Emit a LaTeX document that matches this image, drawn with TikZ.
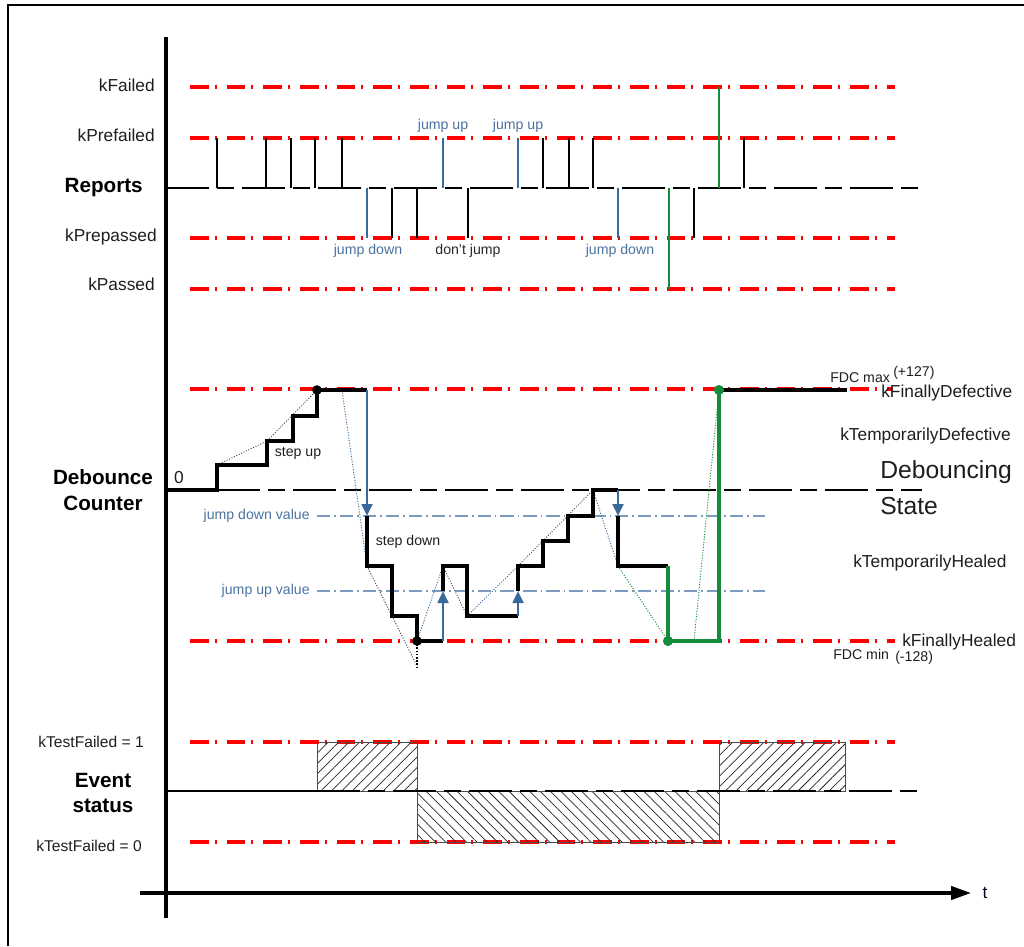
\documentclass[tikz,border=0pt]{standalone}
\usepackage{fontspec}
\setmainfont{Liberation Sans}
\usetikzlibrary{patterns.meta,arrows.meta}
\definecolor{redl}{RGB}{255,0,0}
\definecolor{bluel}{RGB}{58,106,154}
\definecolor{bluet}{RGB}{74,114,160}
\definecolor{bluedd}{RGB}{125,155,192}
\definecolor{greenl}{RGB}{20,140,60}
\definecolor{txt}{RGB}{30,30,30}
\definecolor{dotgray}{RGB}{80,80,80}
\begin{document}
\begin{tikzpicture}[x=0.75pt,y=-0.75pt,
  lbl/.style={font=\fontsize{13}{15}\selectfont, text=txt, inner sep=0pt},
  small/.style={font=\fontsize{10.6}{12}\selectfont, text=txt, inner sep=0pt},
  bluelbl/.style={font=\fontsize{10.6}{12}\selectfont, text=bluet, inner sep=0pt},
  title/.style={font=\fontsize{15.5}{19}\selectfont\bfseries, text=black, inner sep=0pt, align=center},
  big/.style={font=\fontsize{18.5}{25}\selectfont, text=txt, inner sep=0pt, align=left},
  redline/.style={draw=redl, line width=2.4pt, dash pattern=on 14pt off 4.5pt on 1.5pt off 7.5pt},
  baseln/.style={draw=black, line width=1.8pt, dash pattern=on 32.5pt off 6pt on 12.5pt off 6pt},
  valline/.style={draw=bluedd, line width=0.9pt, dash pattern=on 10pt off 3pt on 1.2pt off 3pt},
  pulse/.style={draw=black, line width=1.8pt},
  bpulse/.style={draw=bluel, line width=1.8pt},
  gpulse/.style={draw=greenl, line width=2pt},
  trace/.style={draw=black, line width=2.5pt, line join=miter},
  gtrace/.style={draw=greenl, line width=2.5pt, line join=miter},
  jump/.style={draw=bluel, line width=2pt, -{Triangle[width=8pt,length=9pt]}},
  kdot/.style={draw=dotgray, line width=0.7pt, dash pattern=on 0.8pt off 1.2pt},
  bdot/.style={draw=bluel, line width=0.7pt, dash pattern=on 0.8pt off 1.2pt},
  gdot/.style={draw=greenl, line width=0.7pt, dash pattern=on 0.8pt off 1.2pt},
  hatchbox/.style={draw=black!70, line width=0.7pt},
]
\useasboundingbox (0,0) rectangle (1024,946);
% frame
\draw[line width=1.1pt] (8,946) -- (8,5) -- (1024,5);
% axes
\coordinate (yb) at (166,918);
\coordinate (yt) at (166,37);
\coordinate (xl) at (140,893);
\coordinate (xr) at (971,893);
\draw[line width=2.5pt] (yb) -- (yt);
\draw[line width=2.5pt, -{Triangle[length=15pt,width=10pt]}] (xl) -- (xr);
\node[lbl, text=black!60!blue!40!black] (tlab) at (985,893) {t};

% ---------------- Reports ----------------
\foreach \yy in {87,138,238,289} \draw[redline] (190,\yy) -- (895,\yy);
\draw[baseln] (166,188) -- (922,188);
\foreach \xx in {217,266,291,315,342,543,569,593,744} \draw[pulse] (\xx,188) -- (\xx,138);
\foreach \xx in {392,417,468,694} \draw[pulse] (\xx,188) -- (\xx,238);
\foreach \xx in {443,518} \draw[bpulse] (\xx,188) -- (\xx,138);
\foreach \xx in {367,618} \draw[bpulse] (\xx,188) -- (\xx,238);
\draw[gpulse] (669,188) -- (669,289);
\draw[gpulse] (719,188) -- (719,87);

\node[lbl, anchor=east] (kf) at (155,85) {kFailed};
\node[lbl, anchor=east] (kpf) at (155,135) {kPrefailed};
\node[title, anchor=east] (rep) at (143,188) {Reports};
\node[lbl, anchor=east] (kpp) at (157,237) {kPrepassed};
\node[lbl, anchor=east] (kp) at (155,284) {kPassed};
\node[bluelbl] (ju1) at (443,126) {jump up};
\node[bluelbl] (ju2) at (518,126) {jump up};
\node[bluelbl] (jd1) at (368,251) {jump down};
\node[bluelbl] (jd2) at (620,251) {jump down};
\node[small, text=black!85] (dj) at (468,251) {don't jump};

% ---------------- Debounce counter ----------------
\draw[redline] (190,389) -- (893,389);
\draw[redline] (190,641) -- (895,641);
\draw[baseln] (217,490) -- (922,490);
\draw[valline] (317,516) -- (765,516);
\draw[valline] (317,591) -- (765,591);

% dotted guide lines
\draw[kdot] (217,465) -- (267,441) -- (317,390);
\draw[bdot] (342,390) -- (367,566);
\draw[kdot] (367,566) -- (417,666);
\draw[draw=black, line width=1.2pt, dash pattern=on 1.2pt off 1.2pt] (417,641) -- (417,668);
\draw[bdot] (417,641) -- (443,566);
\draw[kdot] (443,566) -- (467,616);
\draw[bdot] (467,616) -- (518,566);
\draw[kdot] (518,566) -- (593,490);
\draw[bdot] (593,490) -- (618,566);
\draw[gdot] (618,566) -- (668,641);
\draw[gdot] (694,641) -- (719,390);

% counter trace
\coordinate (a1) at (367,390);
\coordinate (a1e) at (367,516);
\coordinate (a2) at (443,641);
\coordinate (a2e) at (443,591);
\coordinate (a3) at (518,616);
\coordinate (a3e) at (518,591);
\coordinate (a4) at (618,490);
\coordinate (a4e) at (618,516);
\coordinate (pmax) at (317,390);
\coordinate (pmin) at (417,641);
\coordinate (gmin) at (668,641);
\coordinate (gmax) at (719,390);
\draw[trace] (166,490) -- (217,490) -- (217,465) -- (267,465) -- (267,441) -- (293,441) -- (293,416) -- (317,416) -- (pmax) -- (a1);
\draw[trace] (a1e) -- (367,566) -- (392,566) -- (392,616) -- (417,616) -- (pmin) -- (a2);
\draw[trace] (a2e) -- (443,566) -- (467,566) -- (467,616) -- (a3);
\draw[trace] (a3e) -- (518,566) -- (543,566) -- (543,541) -- (568,541) -- (568,516) -- (593,516) -- (593,490) -- (a4);
\draw[trace] (a4e) -- (618,566) -- (668,566);
\draw[gtrace] (668,566) -- (gmin) -- (719,641) -- (gmax);
\draw[trace] (gmax) -- (847,390);
\draw[jump] (a1) -- (a1e);
\draw[jump] (a2) -- (a2e);
\draw[jump] (a3) -- (a3e);
\draw[jump] (a4) -- (a4e);
\fill[black] (pmax) circle (3.6pt);
\fill[black] (pmin) circle (3.6pt);
\fill[greenl] (gmin) circle (3.8pt);
\fill[greenl] (gmax) circle (3.8pt);

\node[title] (dc) at (103,490) {Debounce\\Counter};
\node[lbl] (zero) at (179,478) {0};
\node[small] (su) at (298,453) {step up};
\node[small] (sd) at (408,542) {step down};
\node[bluelbl, anchor=east] (jdv) at (310,516) {jump down value};
\node[bluelbl, anchor=east] (juv) at (310,591) {jump up value};

\node[small, anchor=west] (fmax) at (830,378) {FDC max};
\node[small, anchor=west] (fmaxv) at (893,373) {(+127)};
\node[lbl, anchor=west] (kfd) at (881,393) {kFinallyDefective};
\node[lbl, anchor=west] (ktd) at (840,436) {kTemporarilyDefective};
\node[big, anchor=west] (dbs1) at (880,472) {Debouncing};
\node[big, anchor=west] (dbs2) at (880,506) {State};
\node[lbl, anchor=west] (kth) at (853,563) {kTemporarilyHealed};
\node[lbl, anchor=west] (kfh) at (902,642) {kFinallyHealed};
\node[small, anchor=west] (fmin) at (833,654) {FDC min};
\node[small, anchor=west] (fminv) at (895,658) {(-128)};

% ---------------- Event status ----------------
\draw[redline] (190,742) -- (895,742);
\draw[redline] (190,842) -- (895,842);
\draw[pattern={Lines[angle=45,distance=5.5pt,line width=0.55pt]}, pattern color=black!85, hatchbox] (317,742) rectangle (417,791);
\draw[pattern={Lines[angle=-45,distance=5.5pt,line width=0.55pt]}, pattern color=black!85, hatchbox] (417,791) rectangle (719,842);
\draw[pattern={Lines[angle=45,distance=5.5pt,line width=0.55pt]}, pattern color=black!85, hatchbox] (719,742) rectangle (845,791);
\draw[line width=2pt] (166,791) -- (317,791);
\draw[baseln, line width=1.3pt] (317,791) -- (922,791);

\node[lbl, font=\fontsize{11.7}{14}\selectfont, anchor=east] (tf1) at (144,742) {kTestFailed = 1};
\node[lbl, font=\fontsize{11.7}{14}\selectfont, anchor=east] (tf0) at (142,846) {kTestFailed = 0};
\node[title] (es) at (103,793) {Event\\status};
\end{tikzpicture}
\end{document}
